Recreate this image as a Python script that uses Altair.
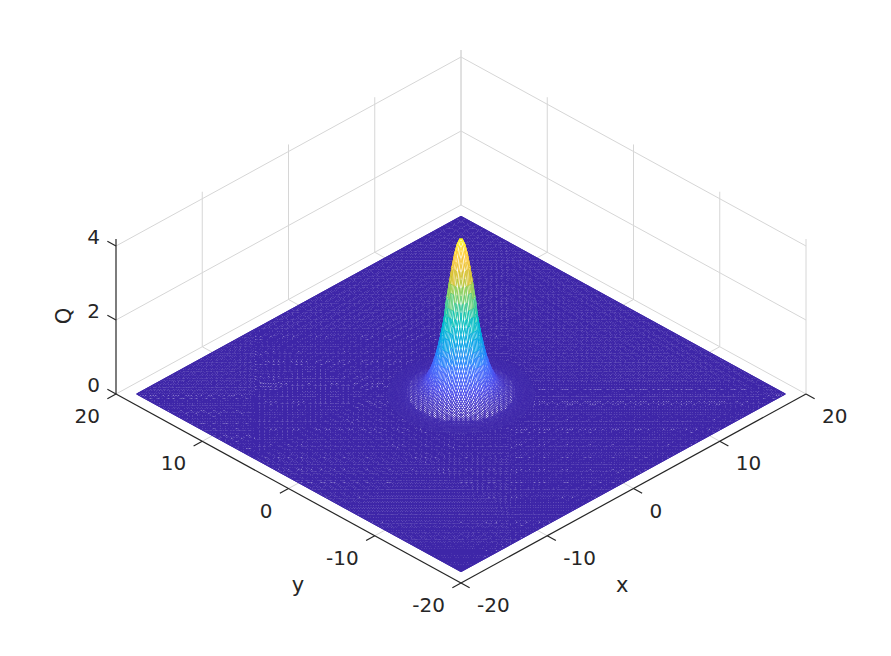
import numpy as np
import pandas as pd
import altair as alt

alt.data_transformers.disable_max_rows()

# Axis content
X_TICKS = [-20, -10, 0, 10, 20]
Y_TICKS = [-20, -10, 0, 10, 20]
Z_TICKS = [0, 2, 4]
Z_TOP = 4.19

# Q at radius 0, 0.1, 0.2, ... from the peak's centre
Q_BY_RADIUS = [
    4.19, 4.173, 4.121, 4.037, 3.923, 3.783, 3.620, 3.439, 3.242, 3.044,
    2.837, 2.629, 2.424, 2.224, 2.031, 1.848, 1.674, 1.513, 1.363, 1.225,
    1.097, 0.980, 0.875, 0.779, 0.692, 0.617, 0.549, 0.485, 0.429, 0.380,
    0.335, 0.296, 0.261, 0.231, 0.204, 0.179, 0.158, 0.139, 0.122, 0.108,
    0.095, 0.084, 0.074, 0.065, 0.057, 0.050, 0.044, 0.039, 0.034, 0.030,
    0.026, 0.023, 0.020, 0.018, 0.016, 0.014, 0.012, 0.011, 0.010, 0.008,
    0.007,
]
RADIUS_STEP = 0.1
GRID_LIMIT = 18.8
GRID_CELLS = 256

PARULA = ["#3e26a8", "#4747eb", "#3e6fff", "#2796eb", "#08b5d0",
          "#31c69f", "#81cc59", "#dcbd29", "#fdc83a", "#f9fb0e"]

INK = "#262626"
GRID = "#d6d6d6"
FONT = "DejaVu Sans"

# Orthographic view of the 3-D axes
KX, KY, KZ = 8.625, 4.725, 37.0
W, H = 875, 640
OX, OY = 453, 386


def pu(x, y):
    return KX * (np.asarray(x, float) - np.asarray(y, float))


def pv(x, y, z=0.0):
    return KY * (np.asarray(x, float) + np.asarray(y, float)) + KZ * np.asarray(z, float)


U_SCALE = alt.Scale(domain=[-OX, W - OX], range=[0, W], nice=False, zero=False)
V_SCALE = alt.Scale(domain=[OY - H, OY], range=[H, 0], nice=False, zero=False)
PROJ = dict(type="identity", reflectY=True, scale=1, translate=[OX, OY])


def segs(rows):
    a = np.array(rows, float)
    return pd.DataFrame({
        "u": pu(a[:, 0], a[:, 1]), "v": pv(a[:, 0], a[:, 1], a[:, 2]),
        "u2": pu(a[:, 3], a[:, 4]), "v2": pv(a[:, 3], a[:, 4], a[:, 5]),
    })


def rules(rows, color, width):
    return alt.Chart(segs(rows)).mark_rule(color=color, strokeWidth=width).encode(
        x=alt.X("u:Q", scale=U_SCALE, axis=None),
        y=alt.Y("v:Q", scale=V_SCALE, axis=None),
        x2="u2:Q", y2="v2:Q",
    )


def texts(rows, align, dx, dy, size=20, angle=0):
    df = pd.DataFrame({
        "u": [pu(r[0], r[1]) for r in rows],
        "v": [pv(r[0], r[1], r[2]) for r in rows],
        "t": [r[3] for r in rows],
    })
    return alt.Chart(df).mark_text(
        align=align, baseline="middle", dx=dx, dy=dy, fontSize=size, font=FONT,
        color=INK, angle=angle,
    ).encode(
        x=alt.X("u:Q", scale=U_SCALE, axis=None),
        y=alt.Y("v:Q", scale=V_SCALE, axis=None),
        text="t:N",
    )


# Walls and floor grid
grid_rows = []
for t in X_TICKS[1:]:
    grid_rows.append([t, 20, 0, t, 20, Z_TOP])
for t in Y_TICKS:
    grid_rows.append([20, t, 0, 20, t, Z_TOP])
for z in Z_TICKS:
    grid_rows.append([-20, 20, z, 20, 20, z])
    grid_rows.append([20, -20, z, 20, 20, z])
for t in X_TICKS[1:-1]:
    grid_rows.append([t, -20, 0, t, 20, 0])
for t in Y_TICKS[1:-1]:
    grid_rows.append([-20, t, 0, 20, t, 0])

# Axis lines and their ticks
axis_rows = [
    [-20, -20, 0, 20, -20, 0],
    [-20, -20, 0, -20, 20, 0],
    [-20, 20, 0, -20, 20, Z_TOP],
]
for t in X_TICKS:
    axis_rows.append([t, -20, 0, t, -21, 0])
for t in Y_TICKS:
    axis_rows.append([-20, t, 0, -21, t, 0])
for z in Z_TICKS:
    axis_rows.append([-20, 20, z, -20, 21, z])

# Surface
grid = np.linspace(-GRID_LIMIT, GRID_LIMIT, GRID_CELLS + 1)
table = np.array(Q_BY_RADIUS)


def q_at(x, y):
    idx = np.rint(np.hypot(x, y) / RADIUS_STEP).astype(int)
    out = np.zeros_like(idx, dtype=float)
    m = idx < len(table)
    out[m] = table[idx[m]]
    return out


XX, YY = np.meshgrid(grid, grid, indexing="ij")
QQ = q_at(XX, YY)
UU = np.round(pu(XX, YY), 2)
VV = np.round(pv(XX, YY, QQ), 2)

# far from the peak the surface is flat: one straight line per grid row/column
flat_lines = []
for g in grid:
    flat_lines.append([[float(pu(g, -GRID_LIMIT)), float(pv(g, -GRID_LIMIT))],
                       [float(pu(g, GRID_LIMIT)), float(pv(g, GRID_LIMIT))]])
    flat_lines.append([[float(pu(-GRID_LIMIT, g)), float(pv(-GRID_LIMIT, g))],
                       [float(pu(GRID_LIMIT, g)), float(pv(GRID_LIMIT, g))]])

corners = [(-GRID_LIMIT, -GRID_LIMIT), (GRID_LIMIT, -GRID_LIMIT),
           (GRID_LIMIT, GRID_LIMIT), (-GRID_LIMIT, GRID_LIMIT), (-GRID_LIMIT, -GRID_LIMIT)]
base_feature = {"type": "Feature", "properties": {},
                "geometry": {"type": "Polygon",
                             "coordinates": [[[float(pu(a, b)), float(pv(a, b))] for a, b in corners]]}}
lines_feature = {"type": "Feature", "properties": {},
                 "geometry": {"type": "MultiLineString", "coordinates": flat_lines}}

# cells round the peak, painted from the back to the front so they hide what is behind
cells = []
n = GRID_CELLS
for i in range(n):
    for j in range(n):
        if min(QQ[i, j], QQ[i + 1, j], QQ[i, j + 1], QQ[i + 1, j + 1]) <= 0:
            continue
        cells.append((XX[i, j] + YY[i, j], i, j))
cells.sort(key=lambda c: -c[0])

features = []
for _, i, j in cells:
    ring = [[float(UU[a, b]), float(VV[a, b])]
            for a, b in [(i, j), (i + 1, j), (i + 1, j + 1), (i, j + 1), (i, j)]]
    qm = float(QQ[i, j] + QQ[i + 1, j] + QQ[i, j + 1] + QQ[i + 1, j + 1]) / 4
    features.append({"type": "Feature", "properties": {"Q": round(qm, 3)},
                     "geometry": {"type": "Polygon", "coordinates": [ring]}})

base = alt.Chart(alt.Data(values=[base_feature])).mark_geoshape(
    fill="white", stroke="#3e26a8", strokeWidth=1.0).project(**PROJ)
mesh = alt.Chart(alt.Data(values=[lines_feature])).mark_geoshape(
    filled=False, stroke="#3e26a8", strokeWidth=1.02).project(**PROJ)
peak = alt.Chart(alt.Data(values=features)).mark_geoshape(fill="white").encode(
    stroke=alt.Color("properties.Q:Q", legend=None,
                     scale=alt.Scale(domain=list(np.linspace(0, Z_TOP, len(PARULA))),
                                     range=PARULA, clamp=True)),
    strokeWidth=alt.StrokeWidth("properties.Q:Q", legend=None,
                                scale=alt.Scale(domain=[0, 0.03, 0.1, 0.3, 1.0, 4.19],
                                                range=[1.05, 1.01, 0.98, 0.95, 0.9, 0.8], clamp=True)),
).project(**PROJ)

x_labels = [[t, -20, 0, str(t)] for t in X_TICKS]
y_labels = [[-20, t, 0, str(t)] for t in Y_TICKS]
z_labels = [[-20, 20, z, str(z)] for z in Z_TICKS]

chart = alt.layer(
    rules(grid_rows, GRID, 1.0),
    base, mesh, peak,
    rules(axis_rows, INK, 1.2),
    texts(x_labels, "left", 16, 23),
    texts(y_labels, "right", -16, 23),
    texts(z_labels, "right", -16, -8),
    texts([[9.0, -20, 0, "x"]], "center", -89, 140, size=21),
    texts([[-20, 9.0, 0, "y"]], "center", 87, 140, size=21),
    texts([[-20, 20, 2, "Q"]], "center", 4, -51, size=21, angle=270),
).properties(width=W, height=H, padding=0, autosize="none", background="white"
).configure_view(stroke=None)

chart.save("out.html", embed_options={"renderer": "svg", "actions": False})
